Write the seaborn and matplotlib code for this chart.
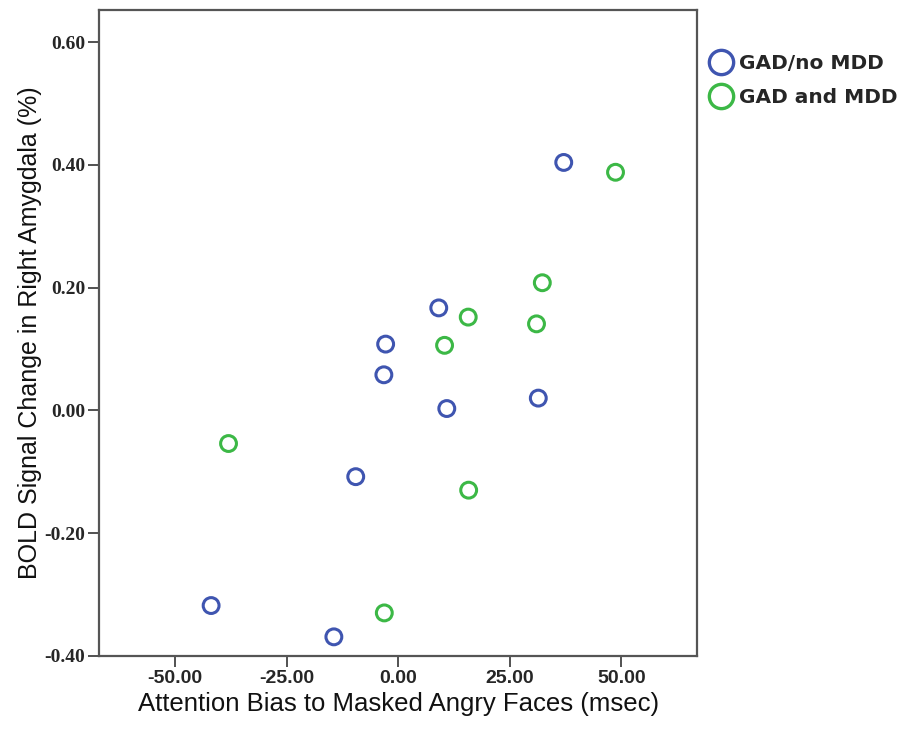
import numpy as np
import pandas as pd
import matplotlib
matplotlib.use("Agg")
import matplotlib.pyplot as plt
import seaborn as sns
from matplotlib.lines import Line2D

# values
groups = ["GAD/no MDD", "GAD and MDD"]
colors = ["#3F55B0", "#3CB846"]

bias_no_mdd = [37.1, 9.1, -2.8, -3.2, 31.4, 10.9, -9.5, -41.9, -14.4]
bold_no_mdd = [0.404, 0.167, 0.108, 0.058, 0.020, 0.003, -0.108, -0.318, -0.369]

bias_mdd = [48.7, 32.3, 15.7, 31.0, 10.4, -38.0, 15.8, -3.1]
bold_mdd = [0.388, 0.208, 0.152, 0.141, 0.106, -0.054, -0.130, -0.330]

x_ticks = [-50, -25, 0, 25, 50]
y_ticks = [-0.40, -0.20, 0.00, 0.20, 0.40, 0.60]

df = pd.DataFrame({
    "bias": bias_no_mdd + bias_mdd,
    "bold": bold_no_mdd + bold_mdd,
    "group": [groups[0]] * len(bias_no_mdd) + [groups[1]] * len(bias_mdd),
})

sns.set_theme(style="white")
plt.rcParams["font.family"] = ["Liberation Sans", "DejaVu Sans"]

fig = plt.figure(figsize=(9.09, 7.32), dpi=100)
ax = fig.add_axes([0.109, 0.104, 0.658, 0.882])

sns.scatterplot(data=df, x="bias", y="bold", hue="group", hue_order=groups,
                palette=colors, s=130, ax=ax, legend=False)
# hollow rings like the SPSS output
coll = ax.collections[0]
fc = coll.get_facecolors()
coll.set_edgecolors(fc)
coll.set_facecolors("none")
coll.set_linewidths(2.2)

ax.set_xlim(-67, 67)
ax.set_ylim(-0.40, 0.652)
ax.set_xticks(x_ticks)
ax.set_xticklabels([f"{v:.2f}" for v in x_ticks],
                   family=["Liberation Sans Narrow", "Liberation Sans"],
                   fontweight="bold", fontsize=14)
ax.set_yticks(y_ticks)
ax.set_yticklabels([f"{v:.2f}" for v in y_ticks],
                   family=["Liberation Serif", "DejaVu Serif"],
                   fontweight="bold", fontsize=14)
ax.tick_params(axis="both", direction="out", length=8, width=1.2,
               color="#333333", bottom=True, left=True, pad=2)

for sp in ax.spines.values():
    sp.set_color("#555555")
    sp.set_linewidth(1.6)

ax.set_xlabel("Attention Bias to Masked Angry Faces (msec)", fontsize=18.5,
              labelpad=4, color="#111111")
ax.set_ylabel("BOLD Signal Change in Right Amygdala (%)", fontsize=18,
              labelpad=1.5, color="#111111")

handles = [Line2D([0], [0], marker="o", linestyle="", markersize=17.5,
                  markerfacecolor="none", markeredgecolor=c,
                  markeredgewidth=2.4, label=g)
           for g, c in zip(groups, colors)]
leg = ax.legend(handles=handles, loc="upper left", bbox_to_anchor=(1.003, 0.944),
                frameon=False, handletextpad=0.2, handlelength=1.4,
                labelspacing=0.7, borderaxespad=0.0,
                prop={"family": "DejaVu Sans", "size": 14.5, "weight": "bold"})

fig.savefig("out.png", dpi=100)
